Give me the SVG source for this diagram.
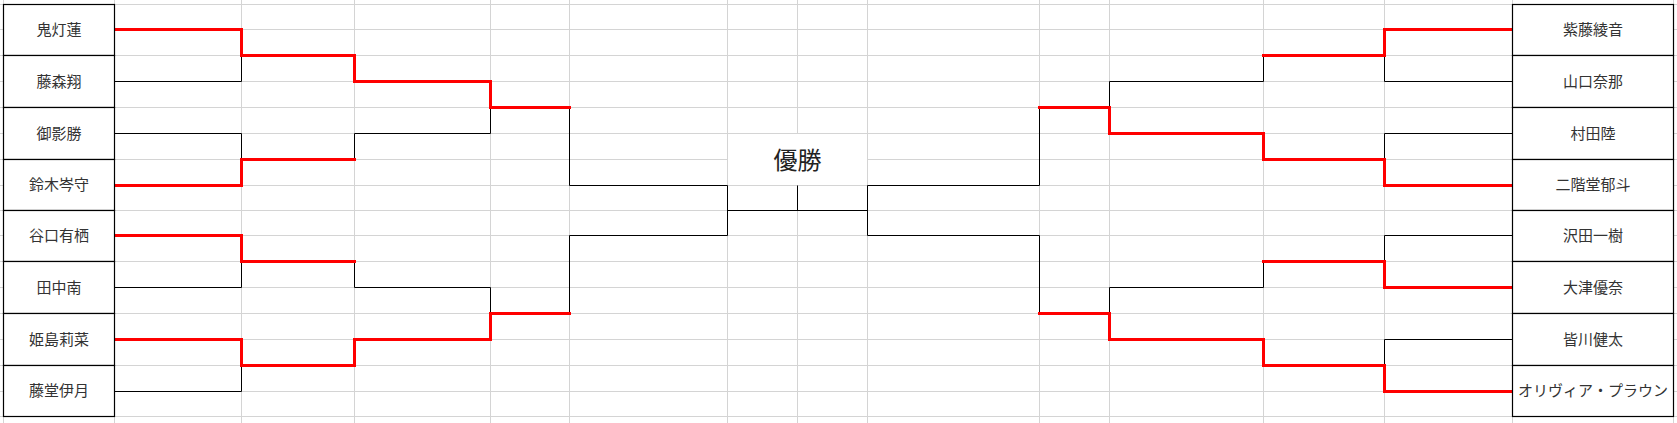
<svg xmlns="http://www.w3.org/2000/svg" width="1677" height="423" viewBox="0 0 1677 423">
<style>
.grid{stroke:#d4d4d4;stroke-width:1;fill:none}
.box{fill:#fff;stroke:#000;stroke-width:1.2}
.name{font-family:"Noto Sans CJK JP","Noto Sans",sans-serif;font-size:15px;fill:#333;text-anchor:middle;dominant-baseline:central}
.title{font-family:"Noto Sans CJK JP","Noto Sans",sans-serif;font-size:24px;fill:#222;text-anchor:middle;dominant-baseline:central}
.blk{stroke:#000;stroke-width:1;fill:none}
.red{stroke:#ff0000;stroke-width:3;fill:none;stroke-linejoin:miter;stroke-linecap:square}
</style>
<rect x="0" y="0" width="1677" height="423" fill="#fff"/>
<g id="grid" class="grid">
<path d="M3.5,0V423M114.5,0V423M241.5,0V423M354.5,0V423M490.5,0V423M569.5,0V423M727.5,0V423M797.5,0V423M867.5,0V423M1039.5,0V423M1109.5,0V423M1263.5,0V423M1384.5,0V423M1512.5,0V423M1673.5,0V423"/>
<path d="M0,4.5H1677M0,29.5H1677M0,55.5H1677M0,81.5H1677M0,107.5H1677M0,133.5H1677M0,159.5H1677M0,185.5H1677M0,210.5H1677M0,235.5H1677M0,261.5H1677M0,287.5H1677M0,313.5H1677M0,339.5H1677M0,365.5H1677M0,391.5H1677M0,416.5H1677"/>
<rect x="728" y="134" width="139" height="51" fill="#fff" stroke="none"/>
</g>
<g id="connectors">
<path class="blk" d="M114.5,29.5H241.5V81.5H114.5M114.5,133.5H241.5V185.5H114.5M114.5,235.5H241.5V287.5H114.5M114.5,339.5H241.5V391.5H114.5
M241.5,55.5H354.5V81.5M241.5,159.5H354.5V133.5M241.5,261.5H354.5V287.5M241.5,365.5H354.5V339.5
M354.5,81.5H490.5V133.5H354.5M354.5,287.5H490.5V339.5H354.5
M490.5,107.5H569.5V185.5M490.5,313.5H569.5V235.5
M569.5,185.5H727.5V235.5H569.5"/>
<path class="blk" d="M1512.5,29.5H1384.5V81.5H1512.5M1512.5,133.5H1384.5V185.5H1512.5M1512.5,235.5H1384.5V287.5H1512.5M1512.5,339.5H1384.5V391.5H1512.5
M1384.5,55.5H1263.5V81.5M1384.5,159.5H1263.5V133.5M1384.5,261.5H1263.5V287.5M1384.5,365.5H1263.5V339.5
M1263.5,81.5H1109.5V133.5H1263.5M1263.5,287.5H1109.5V339.5H1263.5
M1109.5,107.5H1039.5V185.5M1109.5,313.5H1039.5V235.5
M1039.5,185.5H867.5V235.5H1039.5"/>
<path class="blk" d="M727.5,210.5H867.5M797.5,185.5V210.5"/>
<path class="red" d="M115,29.5H241.5V55.5H354.5V81.5H490.5V107.5H569.5"/>
<path class="red" d="M115,185.5H241.5V159.5H354.5"/>
<path class="red" d="M115,235.5H241.5V261.5H354.5"/>
<path class="red" d="M115,339.5H241.5V365.5H354.5V339.5H490.5V313.5H569.5"/>
<path class="red" d="M1512,29.5H1384.5V55.5H1263.5"/>
<path class="red" d="M1512,185.5H1384.5V159.5H1263.5V133.5H1109.5V107.5H1039.5"/>
<path class="red" d="M1512,287.5H1384.5V261.5H1263.5"/>
<path class="red" d="M1512,391.5H1384.5V365.5H1263.5V339.5H1109.5V313.5H1039.5"/>
</g>
<g id="title"><text class="title" x="797.5" y="158.5">優勝</text></g>
<g id="p-l1"><rect class="box" x="3.5" y="4.5" width="111" height="51"/><text class="name" x="59" y="28.5">鬼灯蓮</text></g>
<g id="p-l2"><rect class="box" x="3.5" y="55.5" width="111" height="52"/><text class="name" x="59" y="80">藤森翔</text></g>
<g id="p-l3"><rect class="box" x="3.5" y="107.5" width="111" height="52"/><text class="name" x="59" y="132">御影勝</text></g>
<g id="p-l4"><rect class="box" x="3.5" y="159.5" width="111" height="51"/><text class="name" x="59" y="183.5">鈴木岑守</text></g>
<g id="p-l5"><rect class="box" x="3.5" y="210.5" width="111" height="51"/><text class="name" x="59" y="234.5">谷口有栖</text></g>
<g id="p-l6"><rect class="box" x="3.5" y="261.5" width="111" height="52"/><text class="name" x="59" y="286">田中南</text></g>
<g id="p-l7"><rect class="box" x="3.5" y="313.5" width="111" height="52"/><text class="name" x="59" y="338">姫島莉菜</text></g>
<g id="p-l8"><rect class="box" x="3.5" y="365.5" width="111" height="51"/><text class="name" x="59" y="389.5">藤堂伊月</text></g>
<g id="p-r1"><rect class="box" x="1512.5" y="4.5" width="161" height="51"/><text class="name" x="1593" y="28.5">紫藤綾音</text></g>
<g id="p-r2"><rect class="box" x="1512.5" y="55.5" width="161" height="52"/><text class="name" x="1593" y="80">山口奈那</text></g>
<g id="p-r3"><rect class="box" x="1512.5" y="107.5" width="161" height="52"/><text class="name" x="1593" y="132">村田陸</text></g>
<g id="p-r4"><rect class="box" x="1512.5" y="159.5" width="161" height="51"/><text class="name" x="1593" y="183.5">二階堂郁斗</text></g>
<g id="p-r5"><rect class="box" x="1512.5" y="210.5" width="161" height="51"/><text class="name" x="1593" y="234.5">沢田一樹</text></g>
<g id="p-r6"><rect class="box" x="1512.5" y="261.5" width="161" height="52"/><text class="name" x="1593" y="286">大津優奈</text></g>
<g id="p-r7"><rect class="box" x="1512.5" y="313.5" width="161" height="52"/><text class="name" x="1593" y="338">皆川健太</text></g>
<g id="p-r8"><rect class="box" x="1512.5" y="365.5" width="161" height="51"/><text class="name" x="1593" y="389.5">オリヴィア・プラウン</text></g>
</svg>
